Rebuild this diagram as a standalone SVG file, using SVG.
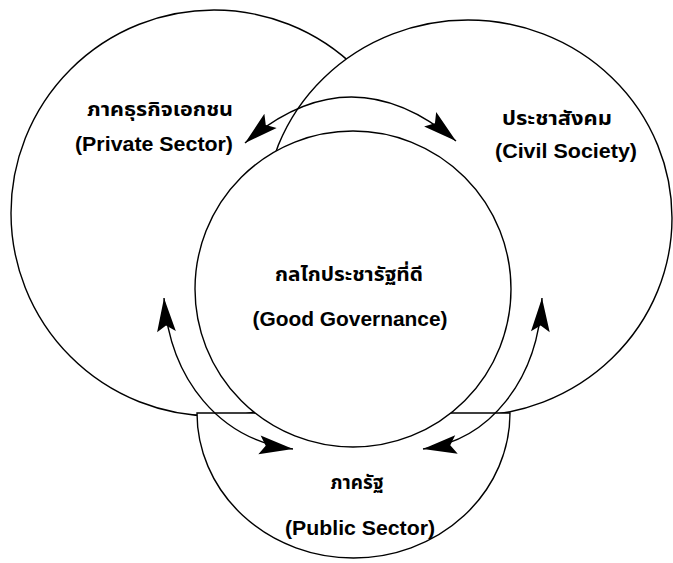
<svg xmlns="http://www.w3.org/2000/svg" width="673" height="563" viewBox="0 0 673 563">
<style>
.shape{fill:#ffffff;stroke:#000000;stroke-width:1.4}
.conn{fill:none;stroke:#000000;stroke-width:1.4}
.th{font-family:"Noto Sans Thai","Noto Sans","DejaVu Sans",sans-serif;font-weight:bold;font-size:19px;fill:#000;text-anchor:middle}
.en{font-family:"Liberation Sans",Arial,sans-serif;font-weight:bold;font-size:20px;fill:#000;text-anchor:middle}
</style>
<defs>
<marker id="ah" markerUnits="userSpaceOnUse" markerWidth="40" markerHeight="40" viewBox="-30 -10 32 20" refX="0" refY="0" orient="auto-start-reverse">
<path d="M0,0 L-27,-7.5 L-22,0 L-27,7.5 Z" fill="#000"/>
</marker>
</defs>
<rect width="673" height="563" fill="#ffffff"/>
<g id="private-sector">
<circle class="shape" cx="214" cy="213" r="203"/>
</g>
<g id="civil-society">
<ellipse class="shape" cx="468" cy="218" rx="204" ry="198"/>
</g>
<g id="public-sector">
<path class="shape" d="M197,413 L510,413 A156.5,145 0 0 1 197,413 Z"/>
</g>
<g id="good-governance">
<circle class="shape" cx="353" cy="289" r="158"/>
</g>
<g id="connectors">
<path class="conn" d="M245,143 Q350,52 456,141" marker-start="url(#ah)" marker-end="url(#ah)"/>
<path class="conn" d="M164,298 C170,380 220,440 293,449" marker-start="url(#ah)" marker-end="url(#ah)"/>
<path class="conn" d="M542,298 C538,380 490,440 423,449" marker-start="url(#ah)" marker-end="url(#ah)"/>
</g>
<g id="labels">
<text class="th" x="160" y="116" textLength="146" lengthAdjust="spacingAndGlyphs">ภาคธุรกิจเอกชน</text>
<text class="en" x="154" y="151" textLength="158" lengthAdjust="spacingAndGlyphs">(Private Sector)</text>
<text class="th" x="557" y="125" textLength="110" lengthAdjust="spacingAndGlyphs">ประชาสังคม</text>
<text class="en" x="566" y="158" textLength="142" lengthAdjust="spacingAndGlyphs">(Civil Society)</text>
<text class="th" x="349" y="281" textLength="148" lengthAdjust="spacingAndGlyphs">กลไกประชารัฐที่ดี</text>
<text class="en" x="350" y="326" textLength="195" lengthAdjust="spacingAndGlyphs">(Good Governance)</text>
<text class="th" x="357" y="489" textLength="53" lengthAdjust="spacingAndGlyphs">ภาครัฐ</text>
<text class="en" x="360" y="535" textLength="150" lengthAdjust="spacingAndGlyphs">(Public Sector)</text>
</g>
</svg>
